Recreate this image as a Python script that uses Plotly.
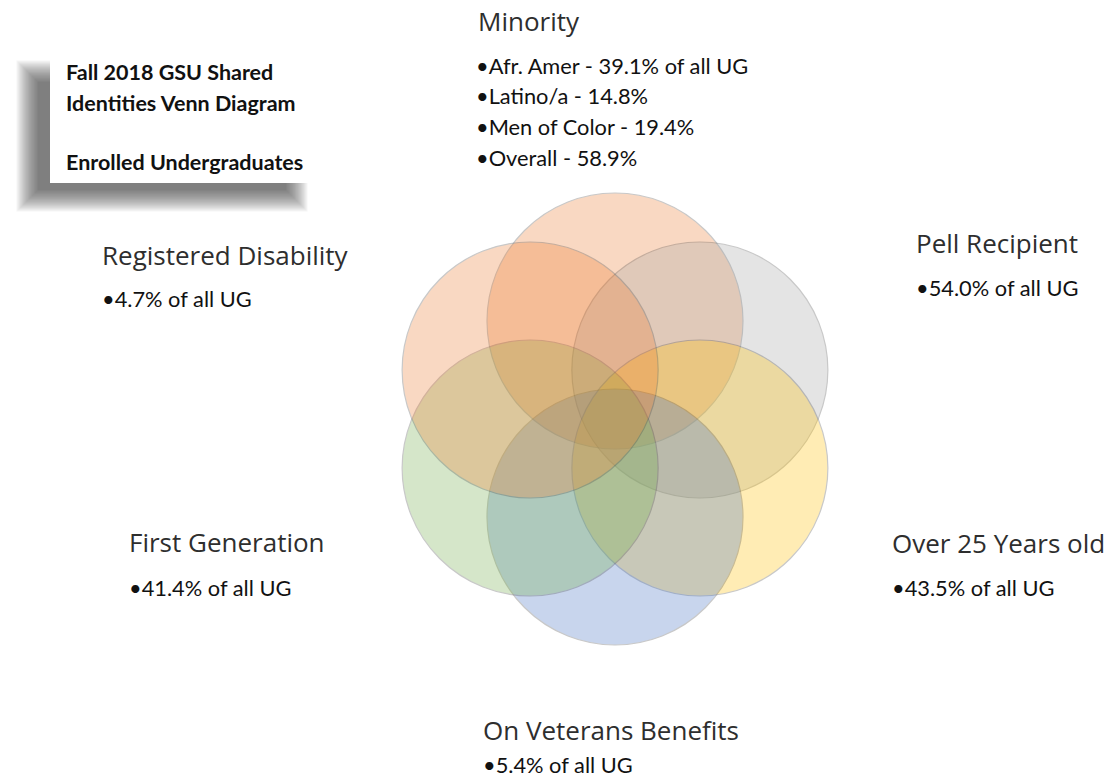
import math
import plotly.graph_objects as go

# ---------------- data ----------------
categories = ["Minority", "Pell Recipient", "Over 25 Years old",
              "On Veterans Benefits", "First Generation", "Registered Disability"]
minority_groups = ["Afr. Amer", "Latino/a", "Men of Color", "Overall"]
minority_pct = [39.1, 14.8, 19.4, 58.9]
pell_pct = 54.0
over25_pct = 43.5
veterans_pct = 5.4
firstgen_pct = 41.4
disability_pct = 4.7
box_lines = ["Fall 2018 GSU Shared", "Identities Venn Diagram", "", "Enrolled Undergraduates"]

# ---------------- styling / layout ----------------
W, H = 1111, 784
circle_colors = ["#ED7D31", "#A5A5A5", "#FFC000", "#4472C4", "#70AD47", "#ED7D31"]
circle_angles = [90, 30, -30, -90, -150, 150]
CX, CY, HEX_R, R = 615, 419, 98, 128

TITLE_FONT = dict(family="Open Sans", size=26, color="#2e2e2e")
BULLET_FONT = dict(family="Lato", size=21.8, color="#111111")
BOX_FONT = dict(family="Lato", size=21.5, color="#111111")

fig = go.Figure()
fig.add_trace(go.Scatter(x=[0, W], y=[0, H], mode="markers",
                         marker=dict(opacity=0), hoverinfo="skip", showlegend=False))

shapes = []

# soft shadow of the title box (many faint layers to imitate a blur)
n_layers = 30
for i in range(n_layers):
    g = i * 0.75
    shapes.append(dict(type="rect", xref="x", yref="y",
                       x0=38 - g, x1=286 + g, y0=82 - g, y1=190 + g,
                       fillcolor="rgba(50,50,50,0.03)", line=dict(width=0), layer="below"))
shapes.append(dict(type="rect", xref="x", yref="y", x0=50, x1=320, y0=36, y1=183,
                   fillcolor="white", line=dict(width=0), layer="below"))

# venn circles
for ang, col in zip(circle_angles, circle_colors):
    cx = CX + HEX_R * math.cos(math.radians(ang))
    cy = CY - HEX_R * math.sin(math.radians(ang))
    shapes.append(dict(type="circle", xref="x", yref="y",
                       x0=cx - R, x1=cx + R, y0=cy - R, y1=cy + R,
                       fillcolor=col, opacity=0.29,
                       line=dict(color="rgba(70,70,70,1)", width=1.2), layer="above"))

annotations = []


def add_text(x, y, text, font):
    annotations.append(dict(x=x, y=y, xref="x", yref="y", text=text, showarrow=False,
                            xanchor="left", yanchor="middle", font=font, align="left"))


# title box
box_y = [72, 103, 133, 162]
for t, y in zip(box_lines, box_y):
    if t:
        add_text(64, y, "<b>%s</b>" % t, BOX_FONT)

# Minority
add_text(476, 21, categories[0], TITLE_FONT)
for i, (g, p) in enumerate(zip(minority_groups, minority_pct)):
    suffix = " of all UG" if i == 0 else ""
    add_text(474, 65 + i * 30.7, "•%s - %.1f%%%s" % (g, p, suffix), BULLET_FONT)

# Pell
add_text(914, 243, categories[1], TITLE_FONT)
add_text(914, 287, "•%.1f%% of all UG" % pell_pct, BULLET_FONT)
# Over 25
add_text(890, 543, categories[2], TITLE_FONT)
add_text(890, 587, "•%.1f%% of all UG" % over25_pct, BULLET_FONT)
# Veterans
add_text(481, 730, categories[3], TITLE_FONT)
add_text(481, 764, "•%.1f%% of all UG" % veterans_pct, BULLET_FONT)
# First Gen
add_text(127, 542, categories[4], TITLE_FONT)
add_text(127, 587, "•%.1f%% of all UG" % firstgen_pct, BULLET_FONT)
# Disability
add_text(100, 255, categories[5], TITLE_FONT)
add_text(100, 298, "•%.1f%% of all UG" % disability_pct, BULLET_FONT)

fig.update_layout(
    width=W, height=H, margin=dict(l=0, r=0, t=0, b=0),
    paper_bgcolor="white", plot_bgcolor="white", showlegend=False,
    xaxis=dict(range=[0, W], visible=False, fixedrange=True),
    yaxis=dict(range=[H, 0], visible=False, fixedrange=True),
    shapes=shapes, annotations=annotations,
)

fig.write_html("out.html", config={"displayModeBar": False},
               post_script="document.body.style.margin='0';document.body.style.overflow='hidden';")
